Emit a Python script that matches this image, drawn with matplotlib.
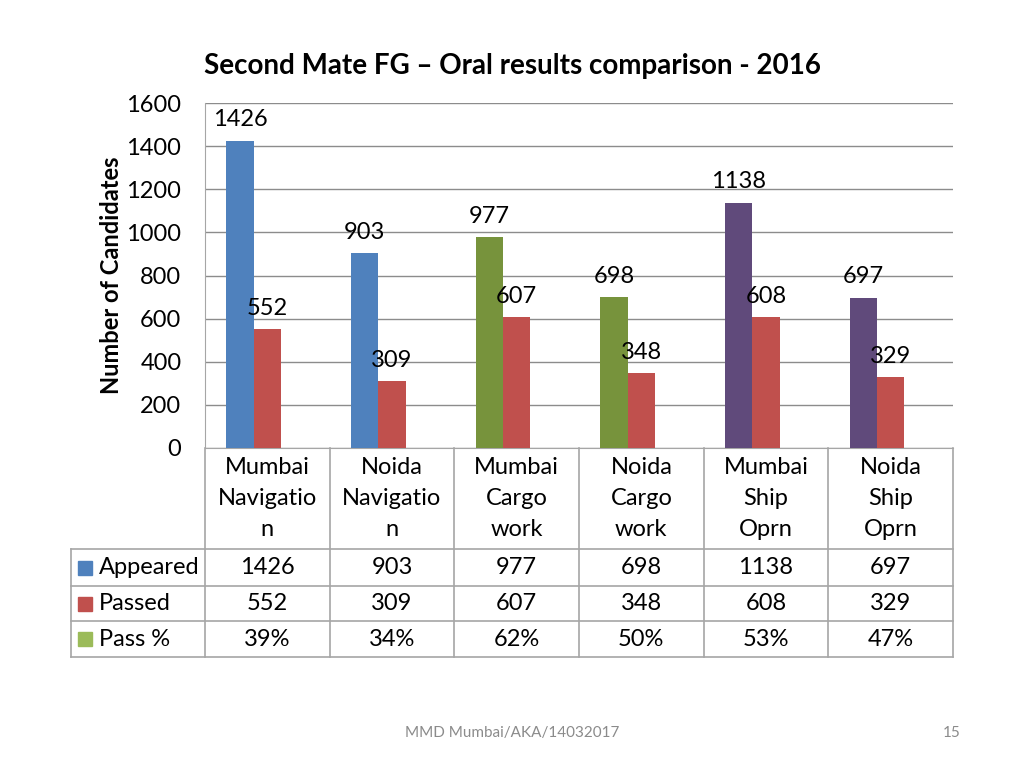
import matplotlib
matplotlib.use("Agg")
import matplotlib.pyplot as plt
from matplotlib.patches import Rectangle

plt.rcParams['font.family'] = ['Lato', 'DejaVu Sans']

categories = ["Mumbai\nNavigatio\nn", "Noida\nNavigatio\nn", "Mumbai\nCargo\nwork",
              "Noida\nCargo\nwork", "Mumbai\nShip\nOprn", "Noida\nShip\nOprn"]
appeared = [1426, 903, 977, 698, 1138, 697]
passed = [552, 309, 607, 348, 608, 329]
pass_pct = [39, 34, 62, 50, 53, 47]
series_names = ["Appeared", "Passed", "Pass %"]
yticks = [0, 200, 400, 600, 800, 1000, 1200, 1400, 1600]

appeared_colors = ["#4F81BD", "#4F81BD", "#77933C", "#77933C", "#604A7B", "#604A7B"]
passed_color = "#C0504D"
legend_colors = ["#4F81BD", "#C0504D", "#9BBB59"]
grid_color = "#8C8C8C"
table_color = "#A6A6A6"
FS = 17

W, H = 1024, 768
fig = plt.figure(figsize=(W / 100, H / 100), dpi=100)

# plot area in pixel coordinates
px_left, px_right, px_top, px_bottom = 205, 953, 103, 448
ax = fig.add_axes([px_left / W, 1 - px_bottom / H, (px_right - px_left) / W, (px_bottom - px_top) / H])

n = len(categories)
bw = 0.22
xs = list(range(n))
# three series side by side; Pass % values (as fractions) are too small to see
ax.bar([x - bw for x in xs], appeared, width=bw, color=appeared_colors, zorder=3)
ax.bar(xs, passed, width=bw, color=passed_color, zorder=3)
ax.bar([x + bw for x in xs], [p / 100 for p in pass_pct], width=bw, color=legend_colors[2], zorder=3)

for x, v in zip(xs, appeared):
    ax.annotate(str(v), (x - bw, v), xytext=(0, 15), textcoords="offset points",
                ha="center", va="center", fontsize=FS, color="black")
for x, v in zip(xs, passed):
    ax.annotate(str(v), (x, v), xytext=(0, 15), textcoords="offset points",
                ha="center", va="center", fontsize=FS, color="black")

ax.set_xlim(-0.5, n - 0.5)
ax.set_ylim(0, 1600)
ax.set_yticks(yticks)
ax.set_yticklabels([str(t) for t in yticks], fontsize=FS)
ax.set_xticks([])
ax.tick_params(axis="y", length=0, pad=17)
ax.yaxis.grid(True, color=grid_color, linewidth=1.0, zorder=0)
ax.set_axisbelow(True)
for s in ["top", "right"]:
    ax.spines[s].set_visible(False)
ax.spines["left"].set_color(table_color)
ax.spines["bottom"].set_color(table_color)
ax.set_ylabel("Number of Candidates", fontsize=FS, fontweight="bold")
ax.yaxis.set_label_coords((123 - px_left) / (px_right - px_left), 0.5)

# data table below, drawn in a pixel-coordinate overlay axes
tx0, tx1, ty0, ty1 = 71, 953, 448, 657
tab = fig.add_axes([tx0 / W, 1 - ty1 / H, (tx1 - tx0) / W, (ty1 - ty0) / H])
tab.set_xlim(tx0, tx1)
tab.set_ylim(ty1, ty0)
tab.axis("off")

colw = (px_right - px_left) / n
row_edges = [448, 549, 586, 621, 657]
lw = 1.2
for k in range(n + 1):
    xk = px_left + k * colw
    tab.plot([xk, xk], [row_edges[0], row_edges[-1]], color=table_color, lw=lw, clip_on=False)
tab.plot([tx0, tx0], [row_edges[1], row_edges[-1]], color=table_color, lw=lw, clip_on=False)
for r in row_edges[1:]:
    tab.plot([tx0, tx1], [r, r], color=table_color, lw=lw, clip_on=False)

for k, cat in enumerate(categories):
    xc = px_left + (k + 0.5) * colw
    for j, line in enumerate(cat.split("\n")):
        tab.text(xc, 467 + j * 31.5, line, ha="center", va="center", fontsize=FS)

rows = [[str(v) for v in appeared], [str(v) for v in passed], [f"{p}%" for p in pass_pct]]
for r, (name, vals, col) in enumerate(zip(series_names, rows, legend_colors)):
    yc = (row_edges[r + 1] + row_edges[r + 2]) / 2
    tab.add_patch(Rectangle((78, yc - 7), 14, 14, color=col, clip_on=False))
    tab.text(99, yc, name, ha="left", va="center", fontsize=FS)
    for k, v in enumerate(vals):
        xc = px_left + (k + 0.5) * colw
        tab.text(xc, yc, v, ha="center", va="center", fontsize=FS)

fig.text(512 / W, 1 - 66 / H, "Second Mate FG \u2013 Oral results comparison - 2016",
         ha="center", va="center", fontsize=20, fontweight="bold")
fig.text(512 / W, 1 - 733 / H, "MMD Mumbai/AKA/14032017", ha="center", va="center",
         fontsize=11, color="#8B8B8B")
fig.text(961 / W, 1 - 733 / H, "15", ha="right", va="center", fontsize=11, color="#8B8B8B")

fig.savefig("out.png", dpi=100)
